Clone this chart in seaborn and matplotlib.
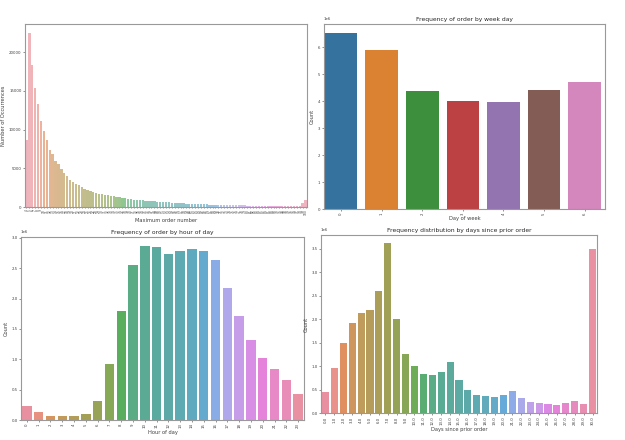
import matplotlib
matplotlib.use("Agg")
import matplotlib.pyplot as plt
import seaborn as sns
import numpy as np
import pandas as pd

# ---------------- data ----------------
max_order_numbers = list(range(4, 101))
max_order_counts = [
    8700, 22500, 18300, 15300, 13300, 11100, 9800, 8600, 7400, 6800,
    5900, 5500, 4900, 4400, 3950, 3500, 3200, 3000, 2800, 2600,
    2300, 2150, 2100, 1900, 1800, 1700, 1700, 1600, 1500, 1450,
    1400, 1300, 1250, 1200, 1100, 1050, 1000, 950, 920, 900,
    850, 800, 760, 730, 720, 700, 680, 650, 620, 600,
    580, 550, 520, 500, 470, 440, 420, 400, 380, 360,
    350, 340, 330, 320, 310, 300, 280, 270, 260, 250,
    240, 230, 220, 210, 200, 200, 190, 190, 180, 180,
    170, 170, 170, 160, 160, 150, 150, 150, 140, 140,
    140, 130, 130, 130, 120, 560, 860,
]

week_days = [0, 1, 2, 3, 4, 5, 6]
week_day_counts = [6.53e6, 5.88e6, 4.39e6, 4.00e6, 3.95e6, 4.41e6, 4.71e6]

hours = list(range(24))
hour_counts = [0.23e6, 0.126e6, 0.071e6, 0.06e6, 0.06e6, 0.093e6, 0.31e6, 0.93e6,
               1.79e6, 2.55e6, 2.87e6, 2.85e6, 2.73e6, 2.78e6, 2.81e6, 2.78e6,
               2.64e6, 2.18e6, 1.71e6, 1.32e6, 1.02e6, 0.84e6, 0.66e6, 0.42e6]

days_prior = [float(d) for d in range(31)]
days_prior_counts = [0.45e6, 0.955e6, 1.485e6, 1.92e6, 2.13e6, 2.185e6, 2.60e6, 3.61e6,
                     1.995e6, 1.26e6, 0.997e6, 0.84e6, 0.806e6, 0.877e6, 1.08e6, 0.70e6,
                     0.48e6, 0.39e6, 0.36e6, 0.35e6, 0.39e6, 0.46e6, 0.325e6, 0.226e6,
                     0.205e6, 0.19e6, 0.17e6, 0.205e6, 0.26e6, 0.19e6, 3.49e6]

# ---------------- figure ----------------
W, H = 625, 440
fig = plt.figure(figsize=(W / 100, H / 100), dpi=100)
fig.patch.set_facecolor("white")

def box(l, r, t, b):
    return [l / W, (H - b) / H, (r - l) / W, (b - t) / H]

TICK_FS = 2.8
LAB_FS = 3.7
TITLE_FS = 4.3
SPINE_C = "0.6"
TXT_C = "0.25"

def style(ax):
    for s in ax.spines.values():
        s.set_color(SPINE_C)
        s.set_linewidth(0.8)
    ax.tick_params(axis="both", labelsize=TICK_FS, colors=TXT_C, length=1.5,
                   width=0.4, pad=1)
    ax.tick_params(axis="x", labelrotation=90)
    ax.yaxis.get_offset_text().set_fontsize(TICK_FS)
    ax.yaxis.get_offset_text().set_color(TXT_C)

# Top-left: maximum order number
ax1 = fig.add_axes(box(25, 307, 24, 207))
df1 = pd.DataFrame({"n": max_order_numbers, "c": max_order_counts})
sns.barplot(data=df1, x="n", y="c", hue="n", palette="husl", legend=False,
            alpha=0.6, ax=ax1)
style(ax1)
ax1.tick_params(axis="x", labelsize=2.2, length=1, pad=0.5)
ax1.set_xlabel("Maximum order number", fontsize=LAB_FS, color=TXT_C, labelpad=2)
ax1.set_ylabel("Number of Occurrences", fontsize=LAB_FS, color=TXT_C, labelpad=2)

# Top-right: day of week
ax2 = fig.add_axes(box(324, 605, 24, 209))
df2 = pd.DataFrame({"d": week_days, "c": week_day_counts})
sns.barplot(data=df2, x="d", y="c", hue="d", palette="tab10", legend=False,
            saturation=0.7, ax=ax2)
style(ax2)
ax2.set_xlim(-0.42, 6.5)
ax2.set_title("Frequency of order by week day", fontsize=TITLE_FS, color="0.15", pad=2)
ax2.set_xlabel("Day of week", fontsize=LAB_FS, color=TXT_C, labelpad=1)
ax2.set_ylabel("Count", fontsize=LAB_FS, color=TXT_C, labelpad=2)

# Bottom-left: hour of day
ax3 = fig.add_axes(box(21, 304, 237, 420))
df3 = pd.DataFrame({"h": hours, "c": hour_counts})
sns.barplot(data=df3, x="h", y="c", hue="h", palette="husl", legend=False,
            alpha=0.88, ax=ax3)
style(ax3)
ax3.set_title("Frequency of order by hour of day", fontsize=TITLE_FS, color="0.15", pad=2)
ax3.set_xlabel("Hour of day", fontsize=LAB_FS, color=TXT_C, labelpad=1)
ax3.set_ylabel("Count", fontsize=LAB_FS, color=TXT_C, labelpad=2)

# Bottom-right: days since prior order
ax4 = fig.add_axes(box(321, 597, 235, 413))
df4 = pd.DataFrame({"d": days_prior, "c": days_prior_counts})
sns.barplot(data=df4, x="d", y="c", hue="d", palette="husl", legend=False,
            alpha=0.88, ax=ax4)
style(ax4)
ax4.set_title("Frequency distribution by days since prior order", fontsize=TITLE_FS,
              color="0.15", pad=2)
ax4.set_xlabel("Days since prior order", fontsize=LAB_FS, color=TXT_C, labelpad=1)
ax4.set_ylabel("Count", fontsize=LAB_FS, color=TXT_C, labelpad=2)

fig.savefig("out.png", dpi=100, facecolor="white")
